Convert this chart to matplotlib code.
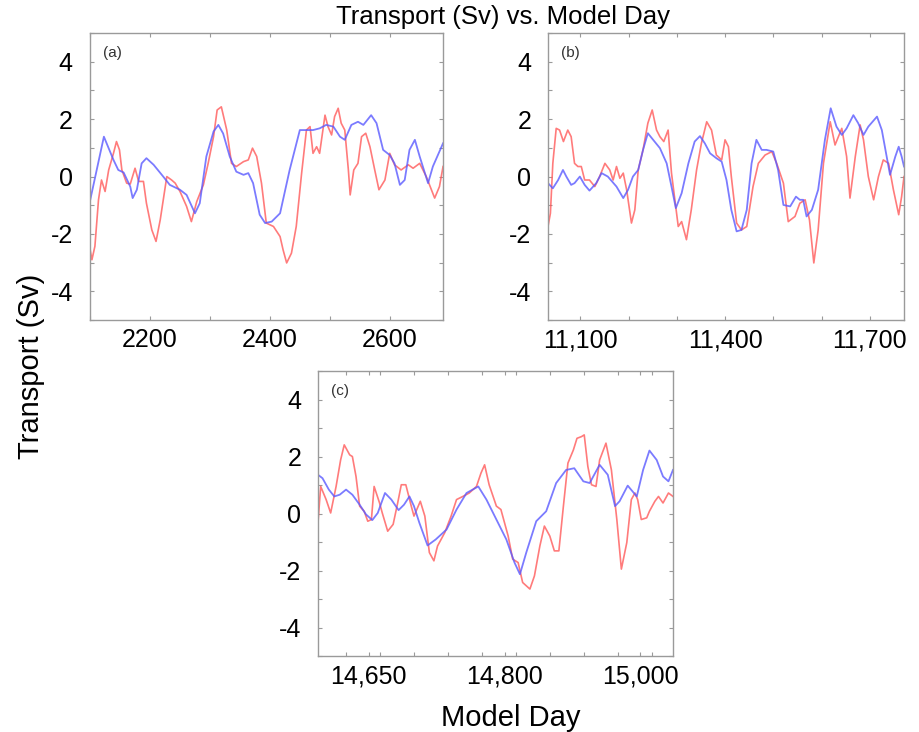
import numpy as np
import matplotlib
matplotlib.use("Agg")
import matplotlib.pyplot as plt
from matplotlib import font_manager
from matplotlib.ticker import MultipleLocator, FixedLocator

# panel (a)
days_a_blue = [2099, 2123, 2139, 2147, 2156, 2167, 2171, 2178, 2186, 2194, 2206, 2222, 2233, 2250, 2261,
               2275, 2283, 2294, 2306, 2314, 2322, 2333, 2344, 2356, 2364, 2372, 2383, 2392, 2403, 2417,
               2433, 2450, 2461, 2472, 2483, 2494, 2506, 2517, 2525, 2536, 2547, 2556, 2569, 2578, 2589,
               2600, 2608, 2617, 2625, 2633, 2642, 2650, 2664, 2672, 2689]
sv_a_blue = [-0.93, 1.39, 0.58, 0.23, 0.14, -0.35, -0.75, -0.46, 0.46, 0.64, 0.41, 0.0, -0.29, -0.46, -0.64,
             -1.28, -0.93, 0.7, 1.57, 1.8, 1.5, 0.7, 0.17, 0.06, 0.12, -0.23, -1.33, -1.62, -1.57, -1.28,
             0.23, 1.62, 1.62, 1.62, 1.68, 1.8, 1.74, 1.39, 1.28, 1.8, 1.91, 1.8, 2.14, 1.86, 0.93,
             0.75, 0.46, -0.29, -0.12, 0.93, 1.28, 0.7, -0.23, 0.35, 1.16]
days_a_red = [2099, 2103, 2108, 2114, 2119, 2125, 2131, 2139, 2144, 2149, 2153, 2161, 2167, 2175, 2181,
              2189, 2194, 2203, 2210, 2217, 2228, 2236, 2242, 2250, 2261, 2269, 2278, 2289, 2297, 2306,
              2312, 2319, 2328, 2336, 2344, 2356, 2364, 2371, 2378, 2386, 2394, 2406, 2417, 2422, 2428,
              2436, 2444, 2453, 2461, 2467, 2472, 2478, 2483, 2492, 2497, 2503, 2508, 2514, 2519, 2525,
              2531, 2534, 2540, 2547, 2553, 2560, 2567, 2575, 2582, 2592, 2600, 2608, 2619, 2631, 2639,
              2650, 2661, 2675, 2683, 2689]
sv_a_red = [-2.43, -2.9, -2.43, -0.81, -0.12, -0.52, 0.23, 0.81, 1.22, 0.93, 0.23, -0.23, -0.26, 0.29, -0.17,
            -0.17, -0.93, -1.86, -2.26, -1.51, 0.0, -0.12, -0.23, -0.52, -1.04, -1.57, -0.87, -0.29, 0.46, 1.39,
            2.32, 2.43, 1.62, 0.46, 0.35, 0.52, 0.58, 0.99, 0.7, -0.23, -1.62, -1.74, -2.09, -2.55, -3.01,
            -2.67, -1.74, 0.12, 1.62, 1.74, 0.81, 1.04, 0.81, 2.14, 1.74, 1.45, 2.09, 2.38, 1.86, 1.62,
            0.23, -0.64, 0.23, 0.46, 1.39, 1.51, 1.04, 0.23, -0.46, -0.12, 0.81, 0.41, 0.23, 0.41, 0.29,
            0.46, 0.0, -0.75, -0.35, 0.35]

# panel (b)
days_b_blue = [11033, 11043, 11054, 11064, 11071, 11081, 11088, 11099, 11109, 11119, 11133, 11144, 11157,
               11175, 11189, 11199, 11209, 11220, 11230, 11240, 11251, 11265, 11279, 11289, 11298, 11310,
               11324, 11337, 11348, 11358, 11369, 11382, 11393, 11403, 11413, 11424, 11434, 11445, 11455,
               11465, 11476, 11486, 11500, 11510, 11521, 11535, 11547, 11555, 11562, 11569, 11580, 11593,
               11607, 11619, 11631, 11642, 11652, 11666, 11676, 11687, 11697, 11715, 11725, 11735, 11742,
               11753, 11760, 11766, 11771]
sv_b_blue = [-0.23, -0.41, -0.12, 0.23, 0.0, -0.29, -0.23, 0.0, -0.29, -0.49, -0.23, 0.12, 0.0,
             -0.35, -0.75, -0.46, 0.0, 0.23, 0.93, 1.51, 1.28, 0.99, 0.46, -0.35, -1.1, -0.58,
             0.46, 1.22, 1.41, 1.16, 0.81, 0.64, 0.52, -0.12, -1.16, -1.91, -1.86, -1.16, 0.46,
             1.28, 0.93, 0.93, 0.87, 0.23, -0.99, -1.04, -0.7, -0.81, -0.81, -1.39, -1.16, -0.46,
             1.28, 2.38, 1.74, 1.45, 1.68, 2.14, 1.86, 1.45, 1.74, 2.09, 1.62, 0.7, 0.06,
             0.7, 1.04, 0.7, 0.35]
days_b_red = [11033, 11038, 11043, 11050, 11057, 11065, 11074, 11081, 11088, 11095, 11102, 11109, 11119,
              11130, 11140, 11151, 11161, 11168, 11175, 11182, 11189, 11196, 11206, 11213, 11220, 11230,
              11240, 11249, 11258, 11265, 11273, 11282, 11289, 11296, 11303, 11310, 11320, 11330, 11341,
              11351, 11362, 11372, 11382, 11393, 11400, 11407, 11413, 11424, 11434, 11445, 11458, 11469,
              11483, 11497, 11507, 11521, 11531, 11545, 11555, 11566, 11575, 11584, 11593, 11604, 11618,
              11628, 11642, 11652, 11659, 11670, 11680, 11687, 11697, 11708, 11718, 11728, 11739, 11749,
              11760, 11766, 11771]
sv_b_red = [-1.74, -1.28, 0.46, 1.68, 1.62, 1.22, 1.62, 1.39, 0.46, 0.35, 0.35, -0.12, -0.12,
            -0.35, 0.0, 0.46, 0.23, -0.12, 0.35, -0.06, 0.12, -0.46, -1.62, -1.16, 0.23, 0.93,
            1.86, 2.32, 1.62, 1.39, 1.22, 1.62, 0.12, -0.81, -1.74, -1.57, -2.2, -1.16, 0.23,
            1.16, 1.91, 1.62, 0.75, 0.58, 1.28, 1.04, 0.0, -1.62, -1.86, -1.74, -0.35, 0.46,
            0.75, 0.87, 0.46, -0.23, -1.57, -1.39, -0.93, -0.81, -1.51, -3.01, -1.86, 0.46, 1.91,
            1.1, 1.68, 0.7, -0.75, 0.7, 1.8, 1.28, 0.0, -0.81, 0.0, 0.58, 0.46, -0.46,
            -1.33, -0.7, 0.0]

# panel (c)
days_c_blue = [14594, 14599, 14606, 14612, 14618, 14625, 14632, 14640, 14647, 14654, 14660, 14668, 14675,
               14683, 14689, 14695, 14700, 14706, 14715, 14724, 14736, 14747, 14758, 14771, 14780, 14791,
               14802, 14811, 14817, 14824, 14835, 14846, 14857, 14868, 14877, 14887, 14894, 14905, 14914,
               14922, 14927, 14936, 14946, 14953, 14960, 14968, 14975, 14981, 14986]
sv_c_blue = [1.36, 1.24, 0.84, 0.6, 0.66, 0.84, 0.66, 0.31, -0.03, -0.23, 0.02, 0.72, 0.49,
             0.12, 0.31, 0.6, 0.26, -0.33, -1.12, -0.91, -0.56, 0.14, 0.72, 0.95, 0.49, -0.21,
             -0.91, -1.72, -2.13, -1.37, -0.27, 0.08, 1.07, 1.53, 1.59, 1.13, 1.07, 1.71, 1.36,
             0.26, 0.43, 0.98, 0.6, 1.53, 2.21, 1.88, 1.3, 1.13, 1.53]
days_c_red = [14594, 14597, 14603, 14608, 14614, 14619, 14623, 14629, 14632, 14636, 14640, 14645, 14649,
              14653, 14656, 14662, 14665, 14671, 14677, 14682, 14686, 14691, 14697, 14700, 14707, 14712,
              14717, 14722, 14726, 14734, 14741, 14747, 14754, 14761, 14769, 14774, 14778, 14783, 14791,
              14796, 14804, 14809, 14815, 14820, 14828, 14833, 14839, 14844, 14850, 14855, 14860, 14865,
              14870, 14876, 14880, 14885, 14888, 14892, 14896, 14901, 14905, 14912, 14918, 14924, 14929,
              14935, 14940, 14944, 14947, 14951, 14957, 14960, 14966, 14970, 14975, 14981, 14986]
sv_c_red = [-0.33, 0.95, 0.49, 0.02, 0.95, 1.88, 2.41, 2.06, 2.0, 1.3, 0.26, 0.08, -0.27,
            -0.21, 0.95, 0.37, 0.02, -0.62, -0.38, 0.37, 1.01, 1.01, 0.26, -0.09, 0.43, -0.09,
            -1.37, -1.66, -1.14, -0.67, -0.09, 0.49, 0.6, 0.72, 0.95, 1.42, 1.71, 1.01, 0.26,
            0.14, -0.79, -1.6, -1.72, -2.42, -2.65, -2.19, -1.14, -0.44, -0.79, -1.31, -1.31, 0.26,
            1.77, 2.23, 2.64, 2.7, 2.76, 1.65, 1.01, 0.95, 1.88, 2.47, 1.53, -0.21, -1.95,
            -1.02, 0.49, 0.72, 0.49, -0.21, -0.15, 0.08, 0.43, 0.6, 0.37, 0.72, 0.6]

yticks = [-4, -2, 0, 2, 4]
xt_a = [2200, 2400, 2600]
xl_a = ['2200', '2400', '2600']
xt_b = [11100, 11400, 11700]
xl_b = ['11,100', '11,400', '11,700']
xt_c = [14650, 14800, 14950]
xl_c = ['14,650', '14,800', '15,000']

plt.rcParams['font.family'] = ['Liberation Sans', 'DejaVu Sans']
plt.rcParams['axes.unicode_minus'] = False

names = [f.name for f in font_manager.fontManager.ttflist]
if 'Liberation Sans Narrow' in names:
    title_font = dict(family='Liberation Sans Narrow', size=21)
else:
    title_font = dict(family='Liberation Sans', size=18.5)

red = '#ff5a5a'
blue = '#5a5aff'
frame = '#9a9a9a'

fig = plt.figure(figsize=(9.19, 7.32), dpi=100)
ax_a = fig.add_axes([0.0974, 0.5628, 0.3847, 0.392])
ax_b = fig.add_axes([0.5963, 0.5628, 0.3874, 0.392])
ax_c = fig.add_axes([0.346, 0.1038, 0.3863, 0.3893])

panels = [
    (ax_a, days_a_blue, sv_a_blue, days_a_red, sv_a_red, (2099, 2689), xt_a, xl_a, 100, '(a)'),
    (ax_b, days_b_blue, sv_b_blue, days_b_red, sv_b_red, (11033, 11771), xt_b, xl_b, 100, '(b)'),
    (ax_c, days_c_blue, sv_c_blue, days_c_red, sv_c_red, (14594, 14986), xt_c, xl_c, 37.5, '(c)'),
]

for ax, xb, yb, xr, yr, xlim, xt, xl, minor, lab in panels:
    ax.plot(xr, yr, color=red, lw=1.2, alpha=0.8)
    ax.plot(xb, yb, color=blue, lw=1.3, alpha=0.8)
    ax.set_xlim(*xlim)
    ax.set_ylim(-5, 5)
    ax.xaxis.set_major_locator(FixedLocator(xt))
    ax.set_xticklabels(xl)
    ax.xaxis.set_minor_locator(MultipleLocator(minor))
    ax.set_yticks(yticks)
    ax.yaxis.set_minor_locator(MultipleLocator(1))
    ax.tick_params(which='both', direction='in', length=3, width=0.8, color=frame,
                   top=True, right=True)
    ax.tick_params(axis='x', labelsize=18, pad=6)
    ax.tick_params(axis='y', labelsize=18, pad=12)
    for s in ax.spines.values():
        s.set_color(frame)
        s.set_linewidth(1.0)
    ax.text(0.037, 0.955, lab, transform=ax.transAxes, ha='left', va='top',
            fontsize=11, color='#333333')

fig.text(0.547, 0.977, 'Transport (Sv) vs. Model Day', ha='center', va='center', **title_font)
fig.text(0.034, 0.5, 'Transport (Sv)', rotation=90, ha='center', va='center', fontsize=21)
fig.text(0.556, 0.019, 'Model Day', ha='center', va='center', fontsize=21)

fig.savefig('out.png', dpi=100)
